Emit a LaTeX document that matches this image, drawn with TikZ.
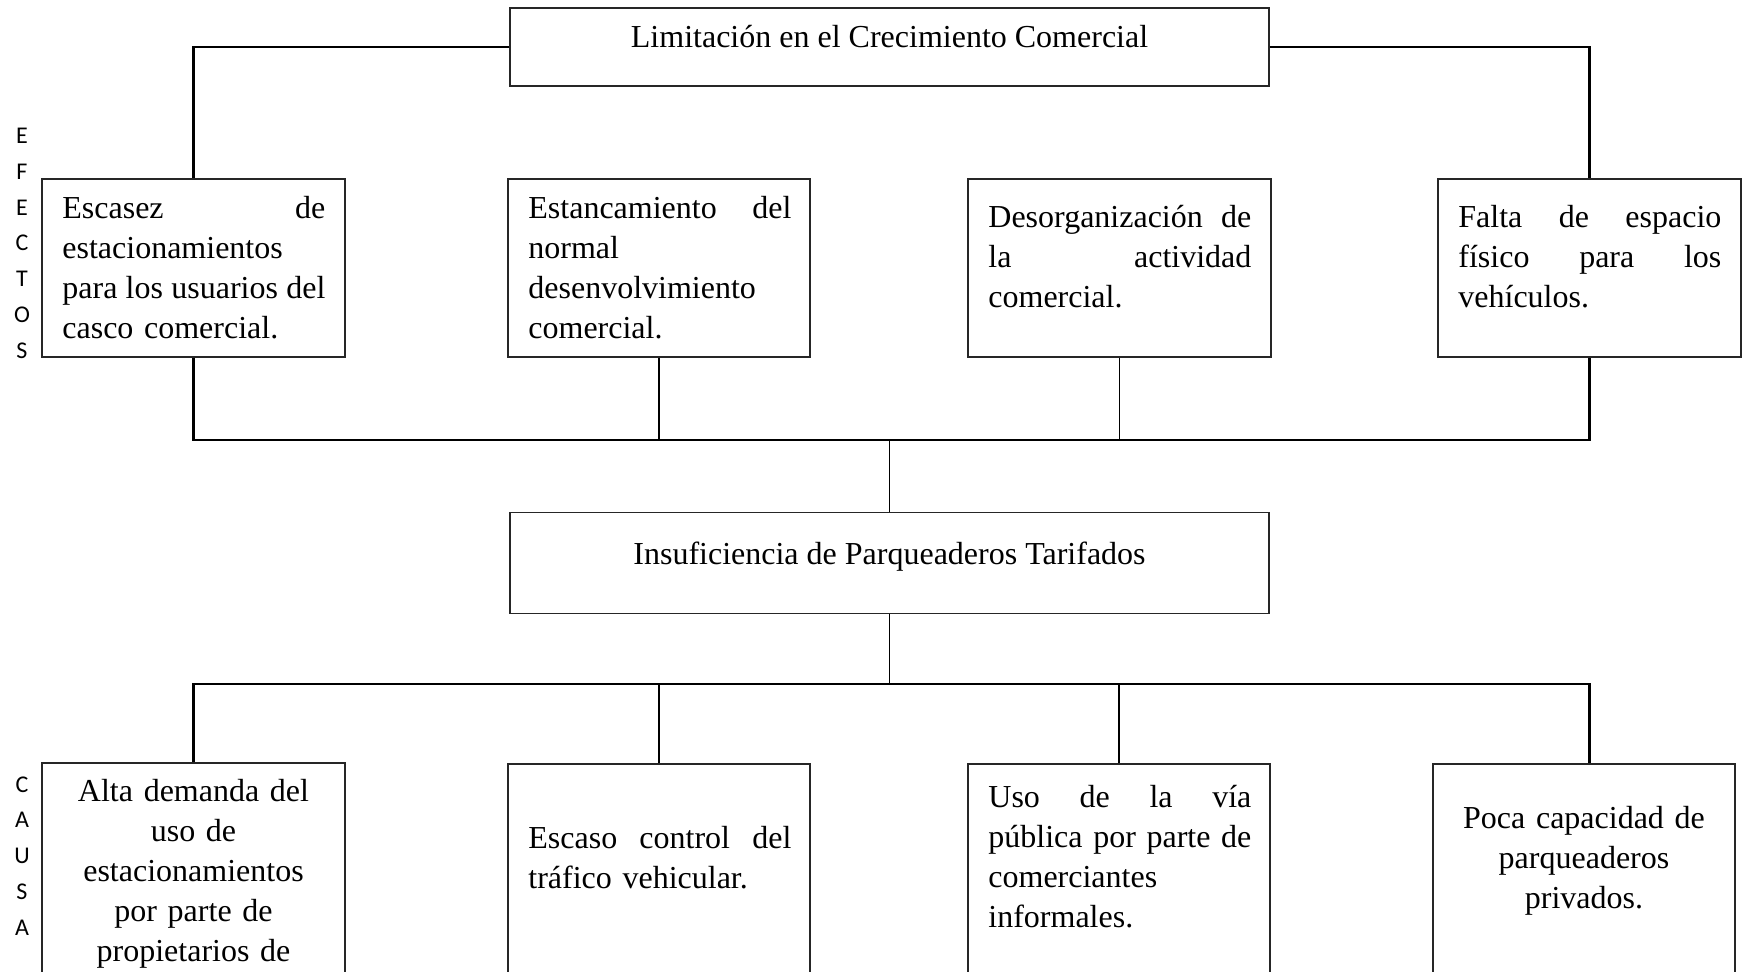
\documentclass[tikz,border=0pt]{standalone}
\usepackage{fontspec}
\setmainfont{Liberation Serif}
\newfontfamily\lettersfont{Carlito}
\newcommand\jline[1]{{\spaceskip=0pt\xspaceskip=0pt\makebox[131.5pt][s]{#1}}}
\tikzset{
  box/.style={draw=black!85, line width=0.55pt, rectangle, inner sep=0pt,
              minimum width=151.5pt, minimum height=89pt},
  wide/.style={draw=black!85, line width=0.55pt, rectangle, inner sep=0pt,
              minimum width=379.5pt},
  cbox/.style={box, minimum height=150pt},
  txt/.style={anchor=north west, inner sep=0pt, text width=131.5pt, align=left,
              font=\fontsize{16pt}{20pt}\selectfont},
  ctxt/.style={anchor=north, inner sep=0pt, text width=131.5pt, align=center,
              font=\fontsize{16pt}{20pt}\selectfont},
  title/.style={anchor=base, inner sep=0pt, font=\fontsize{16pt}{20pt}\selectfont},
  letters/.style={anchor=north, inner sep=0pt, align=center,
              font=\lettersfont\fontsize{12pt}{17.9pt}\selectfont},
  conn/.style={line width=1.05pt, black},
  connmid/.style={line width=0.8pt, black},
  connthin/.style={line width=0.6pt, black},
}
\begin{document}
\begin{tikzpicture}[x=0.5pt, y=-0.5pt]
\useasboundingbox (0,0) rectangle (1745,971);
\clip (0,0) rectangle (1745,971);

% boxes
\node[wide, minimum height=39pt] (top) at (889.5,47) {};
\node[box] (e1) at (193.5,268) {};
\node[box, minimum width=151pt] (e2) at (659,268) {};
\node[box] (e3) at (1119.5,268) {};
\node[box] (e4) at (1589.5,268) {};
\node[wide, minimum height=50.5pt] (mid) at (889.5,563) {};
\node[cbox] (c1) at (193.5,913) {};
\node[cbox, minimum width=151pt] (c2) at (659,914) {};
\node[cbox, minimum width=151pt] (c3) at (1119,914) {};
\node[cbox, minimum width=151pt] (c4) at (1584,914) {};

% connectors
\coordinate (bus1) at (889.5,440);
\coordinate (bus2) at (889.5,684);
\draw[conn] (top.west) -| (e1.north);
\draw[conn] (top.east) -| (e4.north);
\draw[conn] (e1.south) -- (e1.south |- bus1) -- (e4.south |- bus1) -- (e4.south);
\draw[connthin] (e2.south) -- (e2.south |- bus1);
\draw[connthin] (e3.south) -- (e3.south |- bus1);
\draw[connmid] (bus1) -- (mid.north);
\draw[connmid] (mid.south) -- (bus2);
\draw[conn] (c1.north) -- (c1.north |- bus2) -- (e4.south |- bus2) -- (e4.south |- c4.north);
\draw[connthin] (c2.north) -- (c2.north |- bus2);
\draw[connthin] (c3.north) -- (c3.north |- bus2);

% texts
\node[title] (topT) at (889.5,47) {Limitación en el Crecimiento Comercial};
\node[title] (midT) at (889.5,564.5) {Insuficiencia de Parqueaderos Tarifados};

\node[txt] (e1T) at (62,190) {\strut\jline{Escasez de}\\estacionamientos\\\jline{para los usuarios del}\\casco comercial.};
\node[txt] (e2T) at (528,190) {\strut\jline{Estancamiento del}\\normal\\desenvolvimiento\\comercial.};
\node[txt] (e3T) at (988,199) {\strut\jline{Desorganización de}\\\jline{la actividad}\\comercial.};
\node[txt] (e4T) at (1458,199) {\strut\jline{Falta de espacio}\\\jline{físico para los}\\vehículos.};

\node[ctxt] (c1T) at (193.5,773) {\strut Alta demanda del\\uso de\\estacionamientos\\por parte de\\propietarios de};
\node[txt] (c2T) at (528,820) {\strut\jline{Escaso control del}\\tráfico vehicular.};
\node[txt] (c3T) at (988,779) {\strut\jline{Uso de la vía}\\\jline{pública por parte de}\\comerciantes\\informales.};
\node[ctxt] (c4T) at (1584,800) {\strut Poca capacidad de\\parqueaderos\\privados.};

% side labels
\node[letters] (efectos) at (22,118) {\strut E\\F\\E\\C\\T\\O\\S};
\node[letters] (causa) at (22,766.6) {\strut C\\A\\U\\S\\A};
\end{tikzpicture}
\end{document}
